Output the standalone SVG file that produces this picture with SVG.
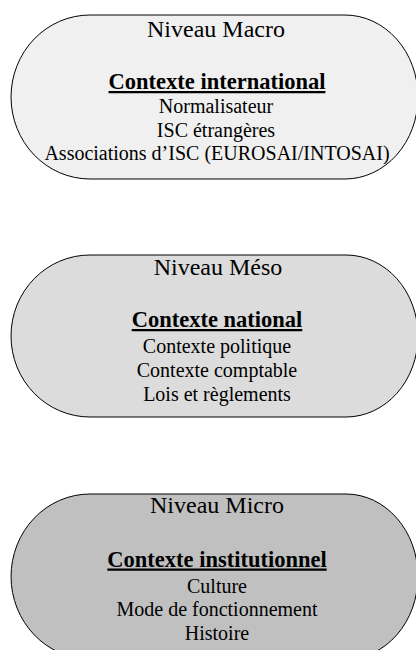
<svg xmlns="http://www.w3.org/2000/svg" width="416" height="650" viewBox="0 0 416 650">
<style>
.shape{stroke:#000;stroke-width:1}
text{font-family:"Liberation Serif","Times New Roman",serif;fill:#000;text-anchor:middle}
.title{font-size:24px}
.head{font-size:22.5px;font-weight:bold;text-decoration:underline}
.body{font-size:20px}
</style>
<rect width="416" height="650" fill="#fff"/>
<g id="macro">
<path class="shape" fill="#f0f0f0" d="M90,15 H345 A73,82 0 0 1 345,179 H90 A79,82 0 0 1 90,15 Z"/>
<text class="title" x="216" y="36.5">Niveau Macro</text>
<text class="head" x="217" y="89">Contexte international</text>
<text class="body" x="216" y="113">Normalisateur</text>
<text class="body" x="216" y="136.5">ISC étrangères</text>
<text class="body" x="217" y="159.5">Associations d’ISC (EUROSAI/INTOSAI)</text>
</g>
<g id="meso">
<path class="shape" fill="#dcdcdc" d="M90,255 H346 A72,81 0 0 1 346,417 H90 A79,81 0 0 1 90,255 Z"/>
<text class="title" x="218" y="275">Niveau Méso</text>
<text class="head" x="217" y="327">Contexte national</text>
<text class="body" x="217" y="353">Contexte politique</text>
<text class="body" x="217" y="377">Contexte comptable</text>
<text class="body" x="217" y="401">Lois et règlements</text>
</g>
<g id="micro">
<path class="shape" fill="#c0c0c0" d="M90,494 H346 A72,82.5 0 0 1 346,659 H90 A79,82.5 0 0 1 90,494 Z"/>
<text class="title" x="217" y="512.5">Niveau Micro</text>
<text class="head" x="217" y="566.5">Contexte institutionnel</text>
<text class="body" x="217" y="592.5">Culture</text>
<text class="body" x="217" y="616">Mode de fonctionnement</text>
<text class="body" x="217" y="640">Histoire</text>
</g>
<g id="connectors"></g>
</svg>
